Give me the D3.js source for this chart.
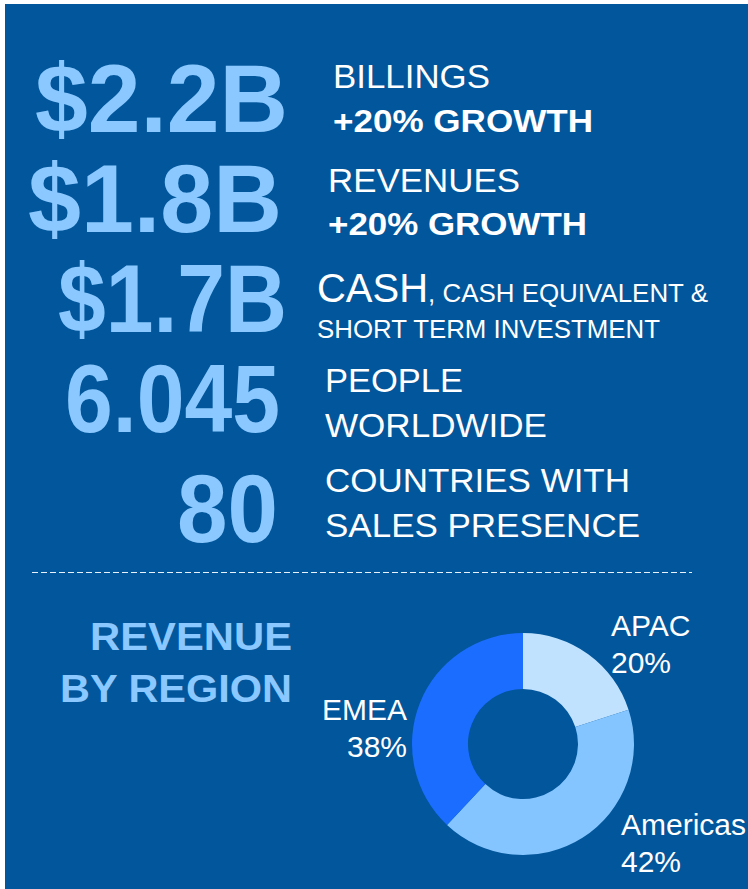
<!DOCTYPE html>
<html lang="en">
<head>
    <meta charset="UTF-8">
    <title>Key figures</title>
    <script src="https://d3js.org/d3.v7.min.js"></script>
    <style>
        body { margin: 0; background: #fff; }
        text { font-family: "Liberation Sans", Arial, sans-serif; }
        .fig { fill: #8ac8ff; font-weight: bold; font-size: 97px; }
        .cap { fill: #fff; font-size: 33px; }
        .cap.b { font-weight: bold; font-size: 31px; }
        .title { fill: #8ac8ff; font-weight: bold; font-size: 39px; text-anchor: end; }
        .lbl { fill: #fff; font-size: 30px; }
    </style>
</head>
<body>
    <svg width="748" height="889"></svg>
    <script>
        // values
        var figures = ["$2.2B", "$1.8B", "$1.7B", "6.045", "80"];
        var captions = [
            ["BILLINGS", "+20% GROWTH"],
            ["REVENUES", "+20% GROWTH"],
            ["CASH", "SHORT TERM INVESTMENT"],
            ["PEOPLE", "WORLDWIDE"],
            ["COUNTRIES WITH", "SALES PRESENCE"]
        ];
        var cashNote = ", CASH EQUIVALENT &";
        var titleLines = ["REVENUE", "BY REGION"];
        var regions = ["APAC", "Americas", "EMEA"];
        var shares = [20, 42, 38];
        var colors = ["#c0e2ff", "#85c5ff", "#1a6dff"];

        // layout (x, baseline, width) for each row
        var figPos = [[35, 132, 253], [28, 232, 254], [58, 332, 229], [65, 432, 215], [177, 542, 101]];
        var capPos = [
            [[333, 88, 157], [333, 132, 260]],
            [[328, 192, 192], [328, 235, 259]],
            [[317, 302, 111], [317, 338, 343]],
            [[325, 392, 138], [325, 437, 222]],
            [[325, 492, 305], [325, 537, 315]]
        ];
        var titlePos = [[650, 202], [702, 232]];

        var svg = d3.select("svg");

        svg.append("rect")
            .attr("x", 5).attr("y", 4)
            .attr("width", 743).attr("height", 885)
            .attr("fill", "#02569b");

        svg.selectAll(".fig")
            .data(figures)
            .enter().append("text")
            .attr("class", "fig")
            .attr("x", function(d, i) { return figPos[i][0]; })
            .attr("y", function(d, i) { return figPos[i][1]; })
            .attr("textLength", function(d, i) { return figPos[i][2]; })
            .attr("lengthAdjust", "spacingAndGlyphs")
            .text(function(d) { return d; });

        captions.forEach(function(pair, i) {
            pair.forEach(function(t, j) {
                var p = capPos[i][j];
                var bold = (i < 2 && j == 1);
                var txt = svg.append("text")
                    .attr("class", bold ? "cap b" : "cap")
                    .attr("x", p[0]).attr("y", p[1]);
                if (i == 2 && j == 1) txt.style("font-size", "26px");
                if (i == 2 && j == 0) {
                    txt.style("font-size", "40px")
                        .append("tspan").text(t)
                        .attr("textLength", p[2]).attr("lengthAdjust", "spacingAndGlyphs");
                    txt.append("tspan").text(cashNote)
                        .style("font-size", "26px")
                        .attr("textLength", 280).attr("lengthAdjust", "spacingAndGlyphs");
                } else {
                    txt.attr("textLength", p[2]).attr("lengthAdjust", "spacingAndGlyphs").text(t);
                }
            });
        });

        // dashed divider
        svg.append("line")
            .attr("x1", 32).attr("x2", 692)
            .attr("y1", 572.5).attr("y2", 572.5)
            .attr("stroke", "#e8f2ff").attr("stroke-width", 1)
            .attr("stroke-dasharray", "6,3");

        titleLines.forEach(function(t, i) {
            svg.append("text").attr("class", "title")
                .attr("x", 292).attr("y", titlePos[i][0])
                .attr("textLength", titlePos[i][1]).attr("lengthAdjust", "spacingAndGlyphs")
                .text(t);
        });

        // donut
        var g = svg.append("g").attr("transform", "translate(523,744)");
        var pie = d3.pie().sort(null).value(function(d) { return d; });
        var arc = d3.arc().innerRadius(55).outerRadius(111);

        g.selectAll("path")
            .data(pie(shares))
            .enter().append("path")
            .attr("d", arc)
            .attr("fill", function(d, i) { return colors[i]; });

        // region labels
        var lblPos = [[611, 636, "start"], [621, 835, "start"], [407, 720, "end"]];
        regions.forEach(function(r, i) {
            var t = svg.append("text").attr("class", "lbl")
                .attr("text-anchor", lblPos[i][2]);
            t.append("tspan").attr("x", lblPos[i][0]).attr("y", lblPos[i][1]).text(r);
            t.append("tspan").attr("x", lblPos[i][0]).attr("y", lblPos[i][1] + 37).text(shares[i] + "%");
        });
    </script>
</body>
</html>
